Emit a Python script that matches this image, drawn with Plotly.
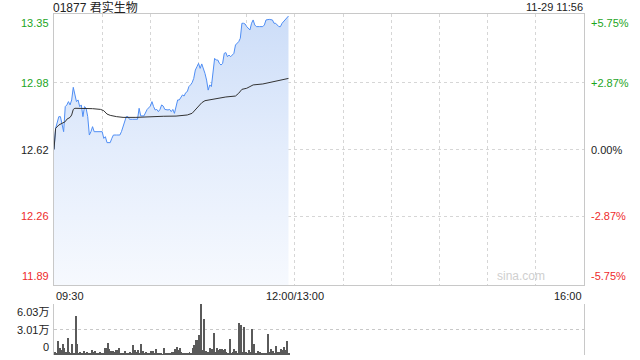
import plotly.graph_objects as go

# ---------------- data ----------------
title_text = "01877 君实生物"
stamp_text = "11-29 11:56"
prev_close = 12.62

price_minutes = [0, 1, 3, 4, 6, 7, 8, 9, 10, 11, 12, 14, 15, 16, 17, 18, 19, 20, 21, 22, 23, 24, 25, 27, 29, 30,
                 31, 32, 33, 35, 36, 37, 39, 41, 42, 43, 44, 45, 46, 47, 49, 52, 53, 54, 56, 57, 58, 60, 61, 62,
                 63, 64, 65, 66, 67, 68, 69, 71, 72, 73, 74, 75, 76, 77, 78, 79, 80, 81, 82, 83, 84, 85, 86, 87,
                 88, 89, 90, 91, 92, 94, 95, 96, 97, 98, 99, 100, 101, 102, 103, 104, 105, 106, 107, 108, 109,
                 110, 111, 112, 113, 115, 116, 117, 118, 119, 120, 121, 122, 123, 124, 125, 126, 128, 130, 131,
                 132, 134, 136, 137, 138, 140, 141, 142, 143, 144, 145, 146]
price_values = [12.620, 12.734, 12.797, 12.797, 12.716, 12.851, 12.860, 12.878, 12.860, 12.887, 12.955, 12.878,
                12.887, 12.851, 12.860, 12.797, 12.851, 12.842, 12.797, 12.698, 12.716, 12.743, 12.716, 12.716,
                12.716, 12.716, 12.680, 12.689, 12.657, 12.657, 12.680, 12.698, 12.698, 12.698, 12.716, 12.743,
                12.770, 12.797, 12.797, 12.783, 12.783, 12.783, 12.842, 12.801, 12.801, 12.824, 12.836, 12.854,
                12.878, 12.851, 12.833, 12.836, 12.824, 12.836, 12.860, 12.854, 12.836, 12.833, 12.836, 12.824,
                12.836, 12.815, 12.851, 12.887, 12.887, 12.901, 12.914, 12.908, 12.926, 12.932, 12.959, 12.968,
                12.980, 13.003, 13.048, 13.066, 13.084, 13.057, 13.081, 13.030, 12.994, 12.940, 12.968, 12.959,
                13.057, 13.111, 13.102, 13.102, 13.084, 13.075, 13.084, 13.138, 13.142, 13.120, 13.129, 13.120,
                13.129, 13.138, 13.183, 13.201, 13.219, 13.300, 13.300, 13.296, 13.282, 13.273, 13.264, 13.300,
                13.318, 13.291, 13.282, 13.282, 13.282, 13.291, 13.318, 13.321, 13.318, 13.300, 13.300, 13.282,
                13.282, 13.300, 13.309, 13.318, 13.327, 13.339]

avg_minutes = [0, 1, 3, 5, 7, 8, 10, 11, 12, 13, 16, 20, 24, 29, 31, 33, 35, 39, 43, 51, 60, 68, 76, 83, 86, 88,
               90, 92, 94, 101, 107, 113, 115, 117, 120, 122, 124, 130, 137, 141, 144, 146]
avg_values = [12.620, 12.734, 12.752, 12.761, 12.770, 12.783, 12.793, 12.806, 12.836, 12.842, 12.842, 12.842,
              12.840, 12.836, 12.829, 12.811, 12.804, 12.797, 12.793, 12.793, 12.797, 12.799, 12.800, 12.806,
              12.815, 12.833, 12.851, 12.872, 12.883, 12.894, 12.903, 12.908, 12.923, 12.944, 12.950, 12.959,
              12.968, 12.973, 12.985, 12.991, 12.998, 13.003]

# volume per minute (万股), minutes 0..146
volume_wan = [0.30, 0.20, 1.66, 0.79, 0.59, 1.30, 0.79, 0.39, 1.97, 0.39, 0.20, 1.30, 0.28, 4.61, 1.30, 0.28,
              0.39, 0.28, 0.47, 0.28, 0.39, 0.28, 0.20, 0.59, 0.31, 0.47, 0.20, 0.28, 0.39, 0.20, 0.28, 0.79,
              0.79, 1.46, 0.67, 0.47, 0.47, 0.39, 0.59, 0.59, 0.79, 0.28, 0.28, 0.20, 0.47, 0.28, 0.28, 0.39,
              0.20, 1.18, 0.59, 0.39, 0.59, 0.20, 1.30, 0.47, 0.28, 0.39, 0.28, 0.28, 0.51, 0.47, 0.20, 0.67,
              0.28, 0.20, 0.20, 0.10, 0.87, 0.20, 0.28, 0.20, 0.20, 0.39, 0.39, 0.67, 0.91, 0.59, 0.79, 0.39,
              0.28, 0.20, 0.20, 0.28, 0.39, 0.28, 0.79, 1.18, 1.77, 1.77, 2.36, 6.00, 0.59, 4.22, 0.51, 0.39,
              0.39, 0.79, 0.71, 2.56, 0.39, 0.79, 0.59, 0.75, 0.75, 0.59, 0.67, 0.39, 0.20, 1.85, 0.28, 0.39,
              0.67, 0.47, 0.28, 3.82, 3.55, 0.39, 3.35, 0.39, 0.28, 0.59, 0.39, 3.03, 1.30, 0.28, 0.28, 0.47,
              0.39, 0.28, 0.28, 0.28, 0.20, 2.48, 0.39, 0.67, 0.47, 0.20, 1.06, 0.39, 0.39, 0.67, 0.59, 0.91,
              0.59, 1.66, 0.28]
volume_minutes = list(range(len(volume_wan)))

price_ticks = [13.35, 12.98, 12.62, 12.26, 11.89]
price_tick_text = ["13.35", "12.98", "12.62", "12.26", "11.89"]
pct_tick_text = ["+5.75%", "+2.87%", "0.00%", "-2.87%", "-5.75%"]
vol_ticks = [6.03, 3.01, 0]
vol_tick_text = ["6.03万", "3.01万", "0"]
time_ticks = [0, 150, 330]
time_tick_text = ["09:30", "12:00/13:00", "16:00"]
grid_minutes = [30, 60, 90, 120, 150, 180, 210, 240, 270, 300]

# ---------------- styles ----------------
GREEN = "#1da51d"
RED = "#ee2b2b"
DARK = "#222222"
FONT = "Arial, Liberation Sans, Noto Sans CJK SC, sans-serif"
GRID = "#d6d6d6"
BORDER = "#c8c8c8"

fig = go.Figure()

fig.add_trace(go.Scatter(
    x=price_minutes, y=price_values, mode="lines",
    line=dict(color="#4f8ef5", width=1),
    fill="tozeroy",
    fillgradient=dict(type="vertical", start=11.89, stop=13.35,
                      colorscale=[[0, "rgba(246,249,254,1)"], [0.5, "rgba(228,237,252,1)"],
                                  [1, "rgba(204,221,248,1)"]]),
    xaxis="x", yaxis="y", hoverinfo="skip", showlegend=False))

fig.add_trace(go.Scatter(
    x=avg_minutes, y=avg_values, mode="lines",
    line=dict(color="#333333", width=1),
    xaxis="x", yaxis="y", hoverinfo="skip", showlegend=False))

fig.add_trace(go.Bar(
    x=volume_minutes, y=volume_wan, width=0.62,
    marker=dict(color="#5a5a5a", line=dict(width=0)),
    xaxis="x2", yaxis="y2", hoverinfo="skip", showlegend=False))

x_dom = [54 / 640, 584 / 640]

fig.update_layout(
    width=640, height=360,
    margin=dict(l=0, r=0, t=0, b=0),
    paper_bgcolor="white", plot_bgcolor="white",
    font=dict(family=FONT, size=11, color=DARK),
    bargap=0,
    xaxis=dict(domain=x_dom, range=[0, 330], anchor="y",
               tickvals=grid_minutes, showticklabels=False, ticks="",
               showgrid=True, gridcolor=GRID, griddash="dot", gridwidth=1,
               showline=True, linecolor=BORDER, linewidth=1, mirror=True, zeroline=False),
    yaxis=dict(domain=[1 - 285 / 360, 1 - 14 / 360], range=[11.89, 13.35], anchor="x",
               tickvals=price_ticks[1:-1], showticklabels=False, ticks="",
               showgrid=True, gridcolor=GRID, griddash="dot", gridwidth=1,
               showline=True, linecolor=BORDER, linewidth=1, mirror=True, zeroline=False),
    xaxis2=dict(domain=x_dom, range=[-0.5, 330], anchor="y2",
                showticklabels=False, ticks="", showgrid=False, zeroline=False,
                showline=False),
    yaxis2=dict(domain=[1 - 355 / 360, 1 - 304 / 360], range=[0, 6.03], anchor="x2",
                tickvals=vol_ticks, showticklabels=False, ticks="",
                showgrid=True, gridcolor="#c8c8c8", griddash="dot", gridwidth=1,
                showline=True, linecolor=BORDER, linewidth=1, mirror=True, zeroline=False),
)

ann = []
# price axis labels (left) and percent labels (right)
n = len(price_ticks)
for i, (v, t, p) in enumerate(zip(price_ticks, price_tick_text, pct_tick_text)):
    col = GREEN if v > prev_close + 1e-9 else (RED if v < prev_close - 1e-9 else DARK)
    ya = "top" if i == 0 else ("bottom" if i == n - 1 else "middle")
    ann.append(dict(x=0, y=v, xref="x domain", yref="y", text=t, showarrow=False,
                    xanchor="right", yanchor=ya, xshift=-3, yshift=(-1 if i == 0 else (1 if i == n - 1 else 0)),
                    font=dict(color=col, size=11, family=FONT)))
    ann.append(dict(x=1, y=v, xref="x domain", yref="y", text=p, showarrow=False,
                    xanchor="left", yanchor=ya, xshift=5, yshift=(-1 if i == 0 else (1 if i == n - 1 else 0)),
                    font=dict(color=col, size=11, family=FONT)))

# volume labels
for i, (v, t) in enumerate(zip(vol_ticks, vol_tick_text)):
    ya = "top" if i == 0 else ("bottom" if i == len(vol_ticks) - 1 else "middle")
    ann.append(dict(x=0, y=v, xref="x2 domain", yref="y2", text=t, showarrow=False,
                    xanchor="right", yanchor=ya, xshift=-3,
                    font=dict(color=DARK, size=11, family=FONT)))

# time labels
anchors = ["left", "center", "right"]
for v, t, a in zip(time_ticks, time_tick_text, anchors):
    ann.append(dict(x=v, y=0, xref="x", yref="y domain", text=t, showarrow=False,
                    xanchor=a, yanchor="top", yshift=-3,
                    font=dict(color=DARK, size=11, family=FONT)))

# title and timestamp
ann.append(dict(x=0, y=1 - 7 / 360, xref="x domain", yref="paper", text=title_text, showarrow=False,
                xanchor="left", yanchor="middle", xshift=-2, borderpad=0,
                font=dict(color=DARK, size=12, family=FONT)))
ann.append(dict(x=1, y=1 - 7 / 360, xref="x domain", yref="paper", text=stamp_text, showarrow=False,
                xanchor="right", yanchor="middle", borderpad=0,
                font=dict(color=DARK, size=11, family=FONT)))
# watermark
ann.append(dict(x=0.93, y=0, xref="x domain", yref="y domain", text="sina.com", showarrow=False,
                xanchor="right", yanchor="bottom", yshift=0,
                font=dict(color="#cfcfcf", size=12, family=FONT)))

fig.update_layout(annotations=ann)

fig.write_html("out.html")
